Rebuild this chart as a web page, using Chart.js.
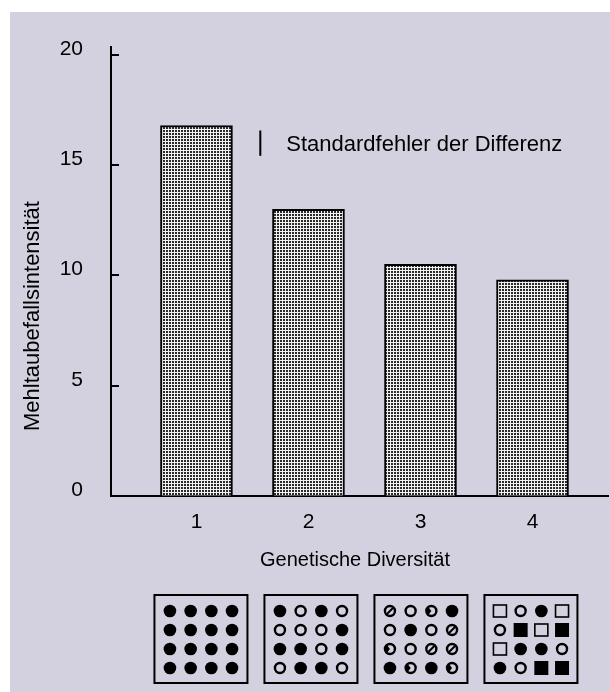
<!DOCTYPE html>
<html lang="de">
<head>
  <meta charset="UTF-8">
  <title>Mehltaubefall und genetische Diversität</title>
  <script src="https://cdn.jsdelivr.net/npm/chart.js"></script>
  <style>
    body { margin: 0; background: #fff; overflow: hidden; }
  </style>
</head>
<body>
  <canvas id="grafico" width="610" height="692"></canvas>

  <script>
    // Daten
    const categories = ['1', '2', '3', '4'];
    const intensity = [16.8, 13.0, 10.5, 9.8];
    const yTicks = [0, 5, 10, 15, 20];
    const standardError = 1.15;
    const seCenter = 16.0;
    const seAt = 1.57;

    // Sortenmischungen: F voll, O offen, S Kreis mit Strich, C Kreis mit Fleck, Q Quadrat offen, B Quadrat voll
    const mix1 = ['FFFF', 'FFFF', 'FFFF', 'FFFF'];
    const mix2 = ['FOFO', 'OOOF', 'FFOF', 'OFFO'];
    const mix3 = ['SOCF', 'OFOS', 'COSS', 'FCFC'];
    const mix4 = ['QOFQ', 'OBQB', 'QFFO', 'FOBB'];
    const mixtures = [mix1, mix2, mix3, mix4];

    const font = "'Liberation Sans', Arial, sans-serif";
    const lavender = '#d3d1df';

    // Punktraster fuer die Balken
    function stipple() {
      const c = document.createElement('canvas');
      c.width = 3; c.height = 3;
      const g = c.getContext('2d');
      g.fillStyle = '#f2f2f2';
      g.fillRect(0, 0, 3, 3);
      g.fillStyle = '#2a2a2a';
      g.fillRect(1, 1, 2, 2);
      return g.createPattern(c, 'repeat');
    }

    function drawSymbol(ctx, code, x, y) {
      ctx.fillStyle = '#000';
      ctx.strokeStyle = '#000';
      ctx.lineWidth = 2.4;
      if (code === 'F') {
        ctx.beginPath(); ctx.arc(x, y, 6.3, 0, Math.PI * 2); ctx.fill();
      } else if (code === 'O' || code === 'S' || code === 'C') {
        ctx.beginPath(); ctx.arc(x, y, 5, 0, Math.PI * 2); ctx.stroke();
        if (code === 'S') {
          ctx.lineWidth = 2;
          ctx.beginPath(); ctx.moveTo(x - 3, y + 3); ctx.lineTo(x + 3, y - 3); ctx.stroke();
        }
        if (code === 'C') {
          ctx.beginPath(); ctx.moveTo(x, y); ctx.arc(x, y, 5, Math.PI * 0.7, Math.PI * 1.3); ctx.closePath(); ctx.fill();
        }
      } else if (code === 'Q') {
        ctx.lineWidth = 1.6;
        ctx.strokeRect(x - 6.5, y - 6, 13, 12);
      } else if (code === 'B') {
        ctx.fillRect(x - 7, y - 7, 14, 14);
      }
    }

    const extras = {
      id: 'extras',
      beforeDraw(chart) {
        const ctx = chart.ctx;
        ctx.save();
        ctx.fillStyle = '#fff';
        ctx.fillRect(0, 0, chart.width, chart.height);
        ctx.fillStyle = lavender;
        ctx.fillRect(10, 12, chart.width - 10, chart.height - 12);
        ctx.restore();
      },
      afterDraw(chart) {
        const ctx = chart.ctx;
        const x = chart.scales.x, y = chart.scales.y;
        const area = chart.chartArea;
        ctx.save();

        // Teilstriche nach innen
        ctx.strokeStyle = '#000';
        ctx.lineWidth = 2;
        yTicks.forEach(v => {
          if (v === 0) return;
          const py = Math.round(y.getPixelForValue(v));
          ctx.beginPath(); ctx.moveTo(area.left, py); ctx.lineTo(area.left + 8, py); ctx.stroke();
        });

        // Standardfehler
        const sx = x.getPixelForValue(seAt);
        ctx.beginPath();
        ctx.moveTo(sx, y.getPixelForValue(seCenter + standardError / 2));
        ctx.lineTo(sx, y.getPixelForValue(seCenter - standardError / 2));
        ctx.stroke();
        ctx.fillStyle = '#000';
        ctx.font = '22px ' + font;
        ctx.textAlign = 'left';
        ctx.textBaseline = 'middle';
        ctx.fillText('Standardfehler der Differenz', sx + 26, y.getPixelForValue(seCenter) + 2);

        // Achsentitel
        ctx.save();
        ctx.translate(33, 316);
        ctx.rotate(-Math.PI / 2);
        ctx.textAlign = 'center';
        ctx.fillText('Mehltaubefallsintensität', 0, 0);
        ctx.restore();
        ctx.font = '20px ' + font;
        ctx.textAlign = 'center';
        ctx.fillText('Genetische Diversität', 355, area.bottom + 64);

        // Mischungsschemata
        mixtures.forEach((rows, i) => {
          const cx = x.getPixelForValue(1.04 + i * 0.982);
          const top = area.bottom + 99;
          ctx.lineWidth = 2;
          ctx.strokeStyle = '#000';
          ctx.strokeRect(cx - 46.5, top, 93, 88);
          rows.forEach((row, r) => {
            row.split('').forEach((code, c) => {
              drawSymbol(ctx, code, cx - 31 + c * 20.7, top + 16 + r * 19);
            });
          });
        });
        ctx.restore();
      }
    };

    new Chart(document.getElementById('grafico'), {
      type: 'bar',
      data: {
        datasets: [{
          label: 'Mehltaubefallsintensität',
          data: intensity.map((v, i) => ({ x: i + 1, y: v })),
          backgroundColor: stipple(),
          borderColor: '#000',
          borderWidth: 2,
          barThickness: 72
        }]
      },
      options: {
        responsive: false,
        animation: false,
        layout: { padding: { left: 0, top: 47, right: 2, bottom: 0 } },
        plugins: { legend: { display: false }, tooltip: { enabled: false } },
        scales: {
          x: {
            type: 'linear',
            offset: false,
            min: 0.237,
            max: 4.674,
            afterFit: s => { s.height = 196; },
            afterBuildTicks: s => { s.ticks = categories.map((c, i) => ({ value: i + 1 })); },
            grid: { color: 'rgba(0,0,0,0)', drawTicks: false, offset: false },
            border: { color: '#000', width: 2 },
            ticks: {
              padding: 14,
              color: '#000',
              font: { family: font, size: 21 },
              callback: v => categories[v - 1]
            }
          },
          y: {
            min: 0,
            max: 20.36,
            afterFit: s => { s.width = 111; },
            afterBuildTicks: s => { s.ticks = yTicks.map(v => ({ value: v })); },
            grid: { color: 'rgba(0,0,0,0)', drawTicks: false },
            border: { color: '#000', width: 2 },
            ticks: {
              padding: 28,
              labelOffset: -6,
              color: '#000',
              font: { family: font, size: 21 }
            }
          }
        }
      },
      plugins: [extras]
    });
  </script>
</body>
</html>
